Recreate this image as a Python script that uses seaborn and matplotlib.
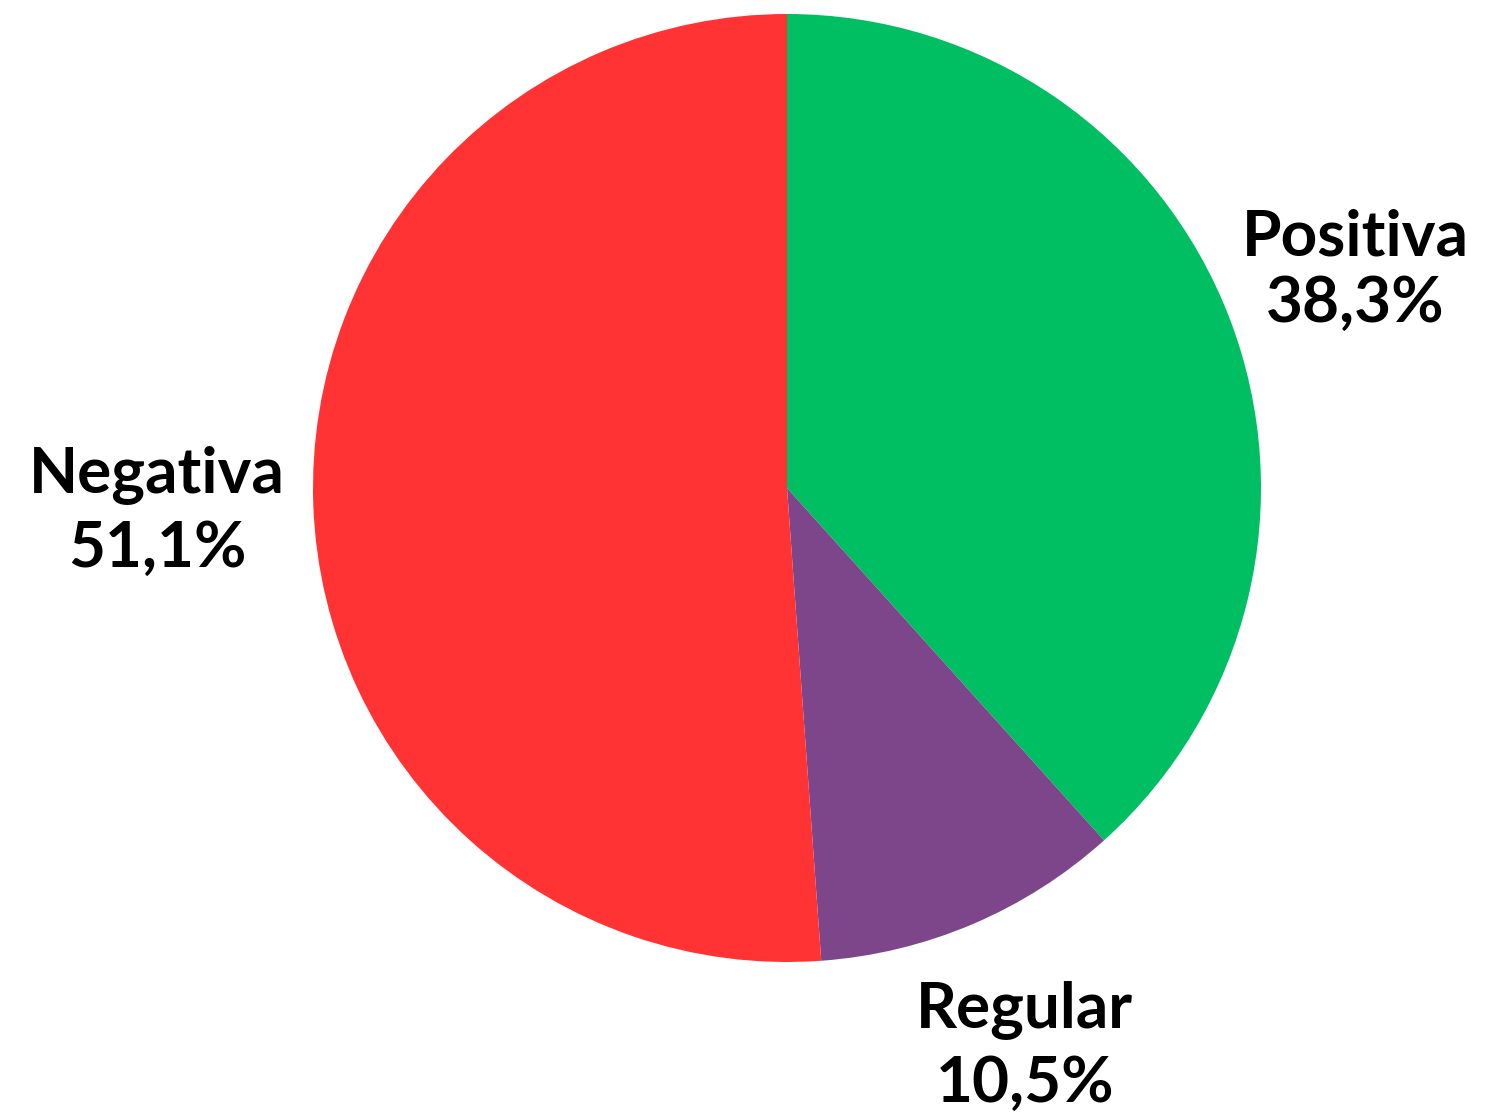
"""Pie chart of sentiment distribution (Positiva / Regular / Negativa)."""

import matplotlib.pyplot as plt
import seaborn as sns

categories = ["Positiva", "Regular", "Negativa"]
shares = [38.3, 10.5, 51.1]
share_labels = ["38,3%", "10,5%", "51,1%"]

GREEN = "#00BF63"
PURPLE = "#7E468A"
RED = "#FF3333"

# label radius and line spacing differ a little per slice in the original
LABEL_DIST = [1.285, 1.28, 1.33]
LINE_SPACING = [1.2, 1.34, 1.34]


def main():
    sns.set_theme(style="white")
    plt.rcParams["font.family"] = ["Lato", "DejaVu Sans"]

    fig = plt.figure(figsize=(14.98, 11.15), dpi=100)
    ax = fig.add_axes([0, 0, 1, 1])

    labels = [f"{c}\n{s}" for c, s in zip(categories, share_labels)]
    wedges, texts = ax.pie(
        shares,
        labels=labels,
        colors=[GREEN, PURPLE, RED],
        startangle=90,
        counterclock=False,
        labeldistance=1.0,
        wedgeprops={"linewidth": 0},
        textprops={"fontsize": 46, "fontweight": "bold", "color": "black"},
    )
    for t, dist, ls in zip(texts, LABEL_DIST, LINE_SPACING):
        x, y = t.get_position()
        t.set_position((x * dist, y * dist))
        t.set_ha("center")
        t.set_va("center")
        t.set_multialignment("center")
        t.set_linespacing(ls)

    # pie centre sits at (787, 488) px with a 474 px radius
    scale = 474
    ax.set_aspect("auto")
    ax.set_xlim(-787 / scale, (1498 - 787) / scale)
    ax.set_ylim(-(1115 - 488) / scale, 488 / scale)
    ax.axis("off")

    fig.savefig("out.png", dpi=100, facecolor="white")


if __name__ == "__main__":
    main()
